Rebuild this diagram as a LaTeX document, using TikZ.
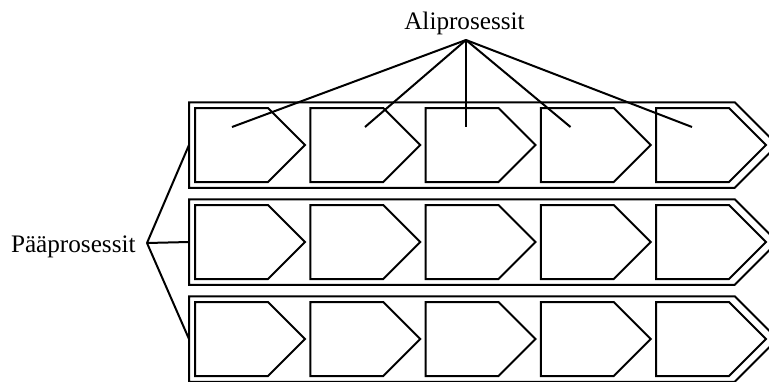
\documentclass[tikz,border=0pt]{standalone}
\usepackage{fontspec}
\setmainfont{Liberation Serif}
\usetikzlibrary{shapes.symbols}
\begin{document}
\begin{tikzpicture}[x=1pt,y=-1pt,line width=2pt,
  outerbox/.style={draw,signal,signal to=east,signal pointer angle=90,inner sep=0pt,outer sep=0pt,minimum width=588.5pt,minimum height=85.5pt,anchor=west},
  chev/.style={draw,signal,signal to=east,signal pointer angle=90,inner sep=0pt,outer sep=0pt,minimum width=110pt,minimum height=74pt,anchor=west},
  lbl/.style={font=\fontsize{25.2}{29}\selectfont,inner sep=0pt}]
\clip (0,0) rectangle (769,381);
\useasboundingbox (0,0) rectangle (769,381);
\foreach \r/\y in {1/145,2/242,3/339}{
  \node[outerbox] (row\r) at (189,\y) {};
  \foreach \c/\x in {1/195,2/310.25,3/425.5,4/540.75,5/656}{
    \node[chev] (c\r\c) at (\x,\y) {};
  }
}
\node[lbl,anchor=base] (ali) at (464.5,29) {Aliprosessit};
\node[lbl,anchor=base west] (paa) at (10,252.7) {Pääprosessit};
\coordinate (ap) at (466,40);
\coordinate (pp) at (147,243);
\coordinate (a1) at (232,127);
\coordinate (a2) at (365,127);
\coordinate (a3) at (466,127);
\coordinate (a4) at (570.5,127);
\coordinate (a5) at (692,127);
\foreach \i in {1,...,5}{\draw (ap) -- (a\i);}
\foreach \r in {1,2,3}{\draw (pp) -- (row\r.west);}
\end{tikzpicture}
\end{document}
